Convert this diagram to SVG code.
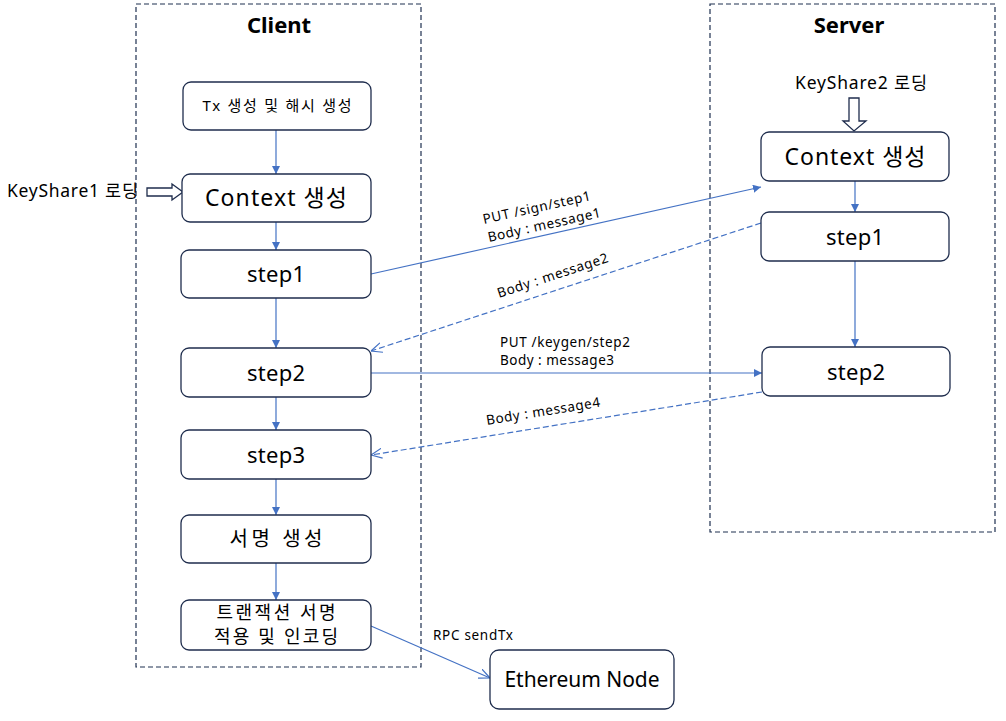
<svg xmlns="http://www.w3.org/2000/svg" width="1006" height="721" viewBox="0 0 1006 721">
<style>
text{font-family:"Noto Sans","Noto Sans CJK KR",sans-serif;fill:#000}
.lane{fill:none;stroke:#1f3050;stroke-width:1.2;stroke-dasharray:5,3}
.box{fill:#fff;stroke:#1f2d4d;stroke-width:1.3}
.c{stroke:#4472c4;stroke-width:1.2;fill:none}
.d{stroke-dasharray:6,3}
.blk{fill:#fff;stroke:#1f2d4d;stroke-width:1.3}
.t{text-anchor:middle;dominant-baseline:central}
.lbl{font-size:13.5px}
</style>
<defs>
<marker id="f" viewBox="0 0 10 10" refX="10" refY="5" markerWidth="8" markerHeight="8" markerUnits="userSpaceOnUse" orient="auto"><path d="M0,0L10,5L0,10z" fill="#4472c4"/></marker>
<marker id="o" viewBox="0 0 10 10" refX="10" refY="5" markerWidth="11" markerHeight="11" markerUnits="userSpaceOnUse" orient="auto"><path d="M0,0.5L10,5L0,9.5" fill="none" stroke="#4472c4" stroke-width="1.1"/></marker>
</defs>
<rect width="1006" height="721" fill="#fff"/>
<g id="lanes">
<rect class="lane" x="136" y="4" width="285" height="663"/>
<rect class="lane" x="710" y="4" width="285" height="528"/>
<text x="279" y="33" text-anchor="middle" font-size="22" font-weight="bold">Client</text>
<text x="849" y="33" text-anchor="middle" font-size="22" font-weight="bold">Server</text>
</g>
<g id="connectors">
<line class="c" x1="276" y1="130" x2="276" y2="174" marker-end="url(#f)"/>
<line class="c" x1="276" y1="222" x2="276" y2="250" marker-end="url(#f)"/>
<line class="c" x1="276" y1="298" x2="276" y2="348" marker-end="url(#f)"/>
<line class="c" x1="276" y1="397" x2="276" y2="430" marker-end="url(#f)"/>
<line class="c" x1="276" y1="479" x2="276" y2="515" marker-end="url(#f)"/>
<line class="c" x1="276" y1="563" x2="276" y2="600" marker-end="url(#f)"/>
<line class="c" x1="855" y1="181" x2="855" y2="212" marker-end="url(#f)"/>
<line class="c" x1="855" y1="261" x2="855" y2="347" marker-end="url(#f)"/>
<line class="c" x1="371" y1="274" x2="761" y2="187" marker-end="url(#f)"/>
<line class="c d" x1="761" y1="223" x2="371" y2="351" marker-end="url(#o)"/>
<line class="c" x1="371" y1="373" x2="762" y2="373" marker-end="url(#f)"/>
<line class="c d" x1="762" y1="392" x2="371" y2="455" marker-end="url(#o)"/>
<line class="c" x1="371" y1="626" x2="490" y2="678" marker-end="url(#o)"/>
<path class="blk" d="M147,188H172V184L183,192L172,200V196H147Z"/>
<path class="blk" d="M849,98H859V121H866L854,131L843,121H849Z"/>
<text x="7" y="197" font-size="17.5" textLength="131" lengthAdjust="spacing">KeyShare1 로딩</text>
<text x="795" y="89" font-size="17.5" textLength="132" lengthAdjust="spacing">KeyShare2 로딩</text>
<g class="lbl">
<text transform="translate(484,224) rotate(-12.6)" textLength="110" lengthAdjust="spacing">PUT  /sign/step1</text>
<text transform="translate(489,242) rotate(-12.6)" textLength="115" lengthAdjust="spacing">Body : message1</text>
<text transform="translate(499,298) rotate(-18.2)" textLength="116" lengthAdjust="spacing">Body : message2</text>
<text x="500" y="347" textLength="130" lengthAdjust="spacing">PUT /keygen/step2</text>
<text x="500" y="365" textLength="114" lengthAdjust="spacing">Body : message3</text>
<text transform="translate(487,425) rotate(-9.2)" textLength="115" lengthAdjust="spacing">Body : message4</text>
<text x="433" y="640" textLength="80" lengthAdjust="spacing">RPC sendTx</text>
</g>
</g>
<g id="n-tx"><rect class="box" x="183" y="82" width="188" height="48" rx="8"/><text class="t" x="277" y="105" font-size="15" textLength="149" lengthAdjust="spacing">Tx 생성 및 해시 생성</text></g>
<g id="n-ctx1"><rect class="box" x="182" y="174" width="189" height="48" rx="8"/><text class="t" x="276" y="197" font-size="23" textLength="142" lengthAdjust="spacing">Context 생성</text></g>
<g id="n-c1"><rect class="box" x="181" y="250" width="190" height="48" rx="8"/><text class="t" x="276" y="273" font-size="22" textLength="58" lengthAdjust="spacing">step1</text></g>
<g id="n-c2"><rect class="box" x="181" y="348" width="190" height="49" rx="8"/><text class="t" x="276" y="372" font-size="22" textLength="58" lengthAdjust="spacing">step2</text></g>
<g id="n-c3"><rect class="box" x="181" y="430" width="190" height="49" rx="8"/><text class="t" x="276" y="454" font-size="22" textLength="58" lengthAdjust="spacing">step3</text></g>
<g id="n-sig"><rect class="box" x="181" y="515" width="190" height="48" rx="8"/><text class="t" x="276" y="538" font-size="20" textLength="93" lengthAdjust="spacing">서명 생성</text></g>
<g id="n-enc"><rect class="box" x="181" y="600" width="190" height="50" rx="8"/><text class="t" x="276" y="612" font-size="18" textLength="119" lengthAdjust="spacing">트랜잭션 서명</text><text class="t" x="276" y="636" font-size="18" textLength="124" lengthAdjust="spacing">적용 및 인코딩</text></g>
<g id="n-ctx2"><rect class="box" x="761" y="132" width="188" height="49" rx="8"/><text class="t" x="855" y="156" font-size="23" textLength="141" lengthAdjust="spacing">Context 생성</text></g>
<g id="n-s1"><rect class="box" x="761" y="212" width="188" height="49" rx="8"/><text class="t" x="855" y="236" font-size="22" textLength="58" lengthAdjust="spacing">step1</text></g>
<g id="n-s2"><rect class="box" x="762" y="347" width="188" height="49" rx="8"/><text class="t" x="856" y="371" font-size="22" textLength="58" lengthAdjust="spacing">step2</text></g>
<g id="n-eth"><rect class="box" x="490" y="650" width="184" height="59" rx="9"/><text class="t" x="582" y="679" font-size="21" textLength="155" lengthAdjust="spacing">Ethereum Node</text></g>
</svg>
